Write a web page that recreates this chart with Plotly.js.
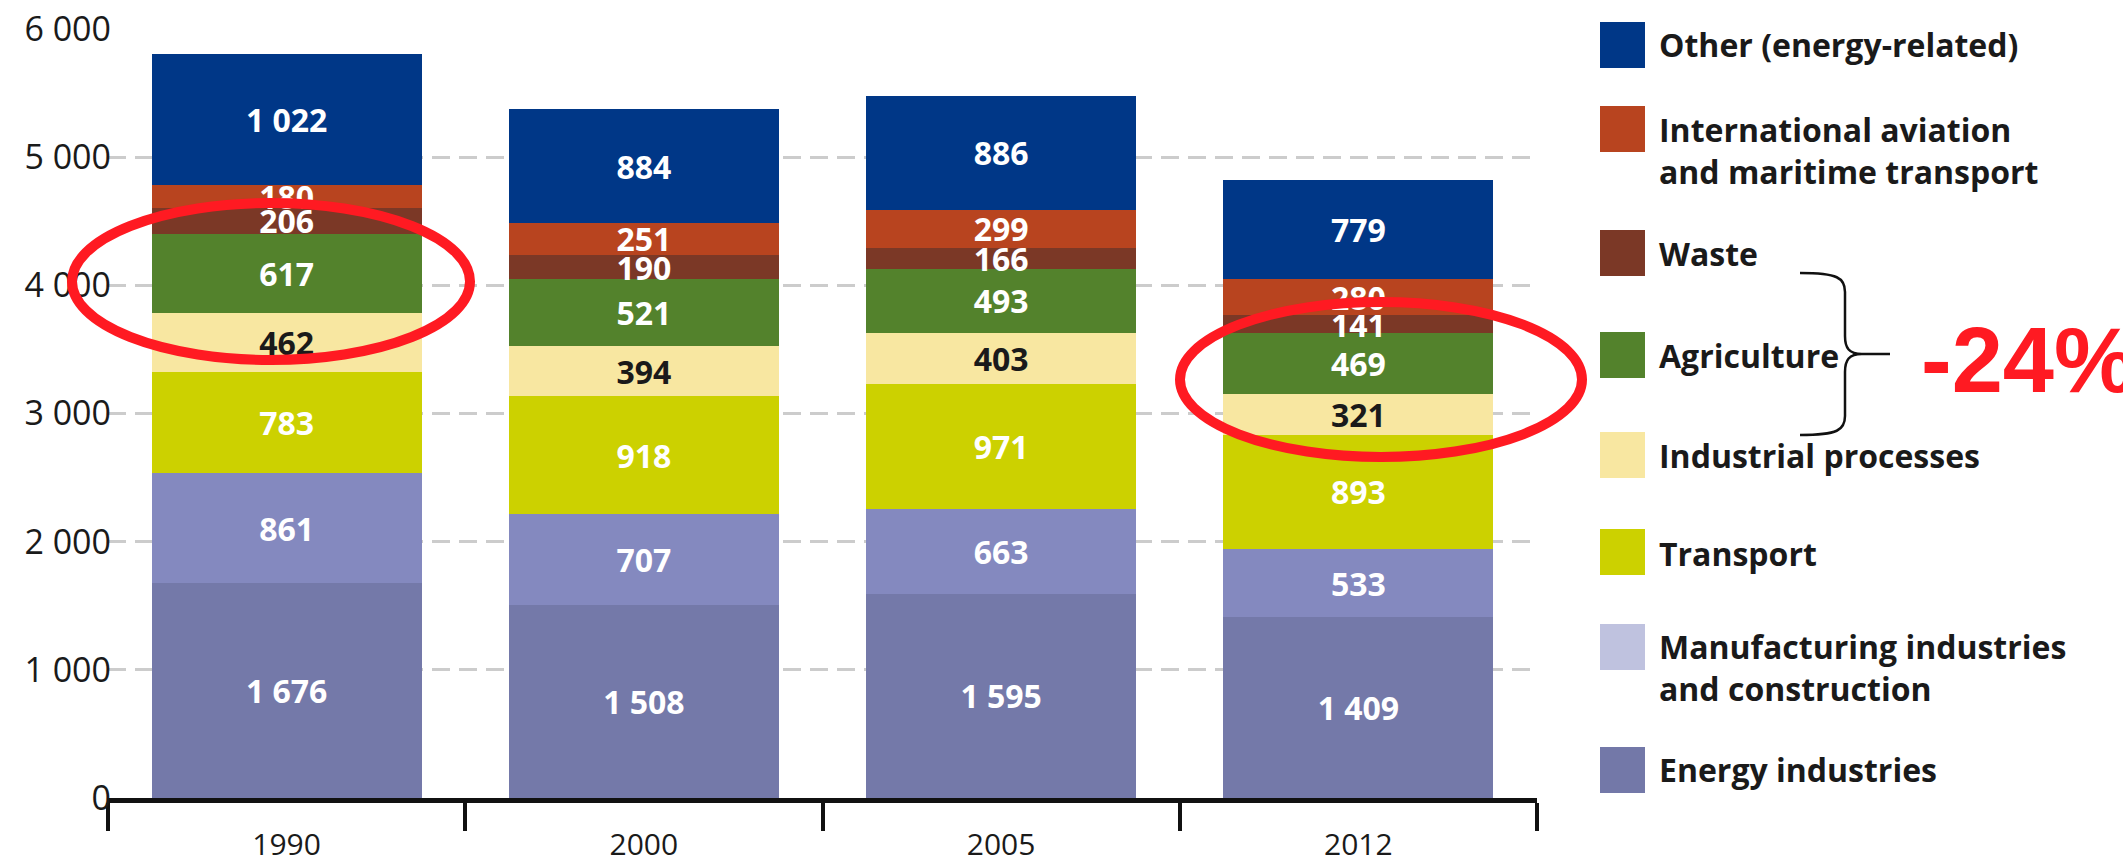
<!DOCTYPE html>
<html>
<head>
<meta charset="utf-8">
<script src="https://cdn.plot.ly/plotly-3.0.1.min.js"></script>
<style>
html,body{margin:0;padding:0;background:#ffffff;}
#chart{width:2123px;height:864px;}
</style>
</head>
<body>
<div id="chart"></div>
<script>
// ---- data ----
const years = ['1990', '2000', '2005', '2012'];
const sectors = [
  'Energy industries',
  'Manufacturing industries and construction',
  'Transport',
  'Industrial processes',
  'Agriculture',
  'Waste',
  'International aviation and maritime transport',
  'Other (energy-related)'
];
const energyIndustries    = [1676, 1508, 1595, 1409];
const manufacturing       = [861, 707, 663, 533];
const transport           = [783, 918, 971, 893];
const industrialProcesses = [462, 394, 403, 321];
const agriculture         = [617, 521, 493, 469];
const waste               = [206, 190, 166, 141];
const intlTransport       = [180, 251, 299, 280];
const otherEnergy         = [1022, 884, 886, 779];
const yTickVals = [0, 1000, 2000, 3000, 4000, 5000, 6000];
const yTickText = ['0', '1 000', '2 000', '3 000', '4 000', '5 000', '6 000'];
const legendLabels = [
  'Other (energy-related)',
  'International aviation<br>and maritime transport',
  'Waste',
  'Agriculture',
  'Industrial processes',
  'Transport',
  'Manufacturing industries<br>and construction',
  'Energy industries'
];
const changeLabel = '-24%';

// ---- styling ----
const W = 2123, H = 864, L = 108, R = 1537, T = 29, B = 798;
const px = x => (x - L) / (R - L);
const py = y => (B - y) / (B - T);

const series = [energyIndustries, manufacturing, transport, industrialProcesses, agriculture, waste, intlTransport, otherEnergy];
const barColors  = ['#7479a9', '#8489bf', '#ccd100', '#f8e7a1', '#53822c', '#7b3826', '#b8441f', '#003787'];
const textColors = ['#ffffff', '#ffffff', '#ffffff', '#1a1a1a', '#ffffff', '#ffffff', '#ffffff', '#ffffff'];
const legendColors = ['#003787', '#b8441f', '#7b3826', '#53822c', '#f8e7a1', '#ccd100', '#bfc2df', '#7378a8'];
const legendBoxCenters  = [45, 129, 253, 355, 455, 552, 647, 770];
const legendTextCenters = [45, 150, 253, 355, 455, 553, 667, 769];

const fmt = v => String(v).replace(/\B(?=(\d{3})+(?!\d))/g, ' ');

const traces = series.map((vals, i) => ({
  type: 'bar',
  name: sectors[i],
  x: years,
  y: vals,
  text: vals.map(fmt),
  textposition: 'inside',
  insidetextanchor: 'middle',
  constraintext: 'none',
  textangle: 0,
  textfont: {family: 'Open Sans', size: 32, weight: 700, color: textColors[i]},
  marker: {color: barColors[i], line: {width: 0}},
  hoverinfo: 'skip',
  showlegend: false
}));

const red = '#ff1a22';
const shapes = [];
const annotations = [];

// legend
legendLabels.forEach((lab, i) => {
  const c = legendBoxCenters[i];
  shapes.push({type: 'rect', xref: 'paper', yref: 'paper',
    x0: px(1600), x1: px(1645), y0: py(c + 23), y1: py(c - 23),
    fillcolor: legendColors[i], line: {width: 0}, layer: 'above'});
  annotations.push({xref: 'paper', yref: 'paper', x: px(1657), y: py(legendTextCenters[i]),
    xanchor: 'left', yanchor: 'middle', align: 'left', showarrow: false, text: lab,
    font: {family: 'Open Sans', size: 32, weight: 700, color: '#1a1a1a'}});
});

// ellipses
shapes.push({type: 'circle', xref: 'paper', yref: 'paper',
  x0: px(72), x1: px(470), y0: py(360), y1: py(203),
  line: {color: red, width: 10}, layer: 'above'});
shapes.push({type: 'circle', xref: 'paper', yref: 'paper',
  x0: px(1180), x1: px(1582), y0: py(457), y1: py(302),
  line: {color: red, width: 10}, layer: 'above'});

// brace
const P = (x, y) => px(x) + ',' + py(y);
const bracePath =
  'M' + P(1800, 273) + ' C' + P(1838, 273) + ' ' + P(1845, 278) + ' ' + P(1845, 292) +
  ' L' + P(1845, 336) + ' C' + P(1845, 348) + ' ' + P(1849, 354) + ' ' + P(1862, 354) +
  ' L' + P(1890, 354) +
  ' M' + P(1862, 354) + ' C' + P(1849, 354) + ' ' + P(1845, 360) + ' ' + P(1845, 372) +
  ' L' + P(1845, 416) + ' C' + P(1845, 430) + ' ' + P(1838, 435) + ' ' + P(1800, 435);
shapes.push({type: 'path', xref: 'paper', yref: 'paper', path: bracePath,
  line: {color: '#111111', width: 2.5}, layer: 'above'});

annotations.push({xref: 'paper', yref: 'paper', x: px(1919), y: py(360),
  xanchor: 'left', yanchor: 'middle', showarrow: false, text: changeLabel,
  font: {family: 'Liberation Sans', size: 92, weight: 700, color: red}});

const layout = {
  width: W, height: H,
  margin: {l: L, r: W - R, t: T, b: H - B, pad: 0},
  paper_bgcolor: '#ffffff', plot_bgcolor: '#ffffff',
  barmode: 'stack', bargap: 0.244,
  showlegend: false,
  xaxis: {
    type: 'category', categoryorder: 'array', categoryarray: years,
    range: [-0.5, 3.5], tickson: 'boundaries',
    ticks: 'outside', ticklen: 28, tickwidth: 4, tickcolor: '#111111',
    showline: true, linewidth: 5, linecolor: '#111111',
    showgrid: false, zeroline: false, ticklabelstandoff: 16,
    tickfont: {family: 'Open Sans', size: 30, color: '#1a1a1a'}
  },
  yaxis: {
    range: [0, 6000], tickmode: 'array', tickvals: yTickVals, ticktext: yTickText,
    showgrid: true, gridcolor: '#cccccc', gridwidth: 3, griddash: '18px,9px',
    zeroline: false, showline: false, ticks: '', ticklabelstandoff: -4,
    tickfont: {family: 'Open Sans', size: 34, color: '#1a1a1a'}
  },
  shapes: shapes,
  annotations: annotations
};

Plotly.newPlot('chart', traces, layout, {staticPlot: true, displayModeBar: false});
</script>
</body>
</html>
